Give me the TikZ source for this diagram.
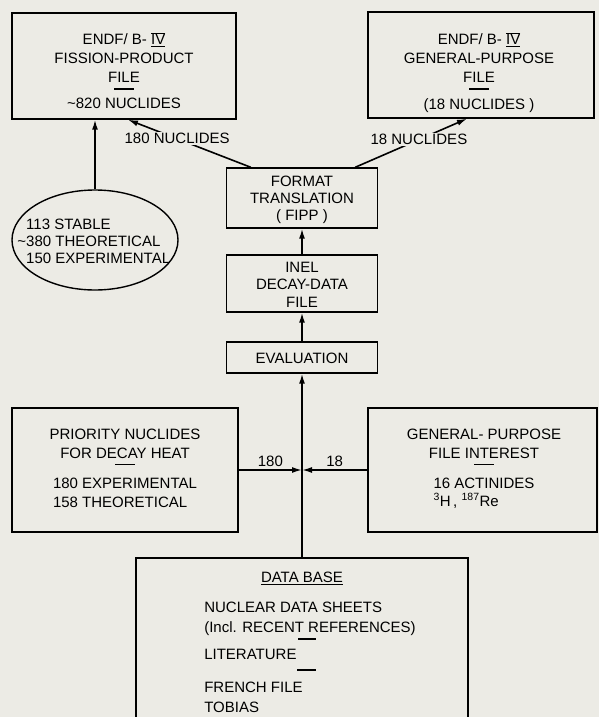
\documentclass[tikz,border=0pt]{standalone}
\usepackage{fontspec}
\setmainfont{Liberation Sans}
\usetikzlibrary{arrows.meta,shapes.geometric}
\definecolor{paper}{RGB}{236,235,229}
\newcommand{\romIV}{\smash{$\underline{\overline{\mbox{IV}}}$}}
\newcommand{\sepbar}[1][4pt]{\\[-12pt]\rule{20pt}{1.3pt}\\[#1]}

\begin{document}
\begin{tikzpicture}[x=1pt, y=-1pt,
  box/.style={draw, line width=1.4pt, inner sep=0pt},
  txt/.style={font=\fontsize{15}{19}\selectfont, align=center, inner sep=0pt, anchor=north},
  arr/.style={line width=1.6pt, -{Latex[length=10pt,width=6pt]}},
  lbl/.style={font=\fontsize{15}{19}\selectfont, fill=paper, inner sep=1pt},
  tag/.style={font=\fontsize{15}{19}\selectfont, above, inner sep=3pt}]
  \fill[paper] (0,0) rectangle (599,717);
  \clip (0,0) rectangle (599,717);
  % top row: the two ENDF/B-IV files
  \node[box, minimum width=224pt, minimum height=106pt] (fpfile) at (124,66) {};
  \node[box, minimum width=226pt, minimum height=106pt] (gpfile) at (481,65) {};
  \node[txt] (fptext) at (124,33.5) {ENDF/ B- \romIV\\FISSION-PRODUCT\\FILE\sepbar[0pt]\textasciitilde820 NUCLIDES};
  \node[txt] (gptext) at (479,33.5) {ENDF/ B- \romIV\\GENERAL-PURPOSE\\FILE\sepbar[1pt](18 NUCLIDES )};
  % middle column
  \node[box, minimum width=151pt, minimum height=60pt] (fipp) at (302,198) {};
  \node[box, minimum width=151pt, minimum height=57pt] (inel) at (302,283.5) {};
  \node[box, minimum width=151pt, minimum height=31pt] (evalbox) at (302,357.5) {};
  \node[txt, font=\fontsize{15}{17}\selectfont] (fipptext) at (302,175.5) {FORMAT\\TRANSLATION\\( FIPP )};
  \node[txt, font=\fontsize{15}{17.5}\selectfont] (ineltext) at (302,261.5) {INEL\\DECAY-DATA\\FILE};
  \node[txt] (evaltext) at (302,352.5) {EVALUATION};
  % nuclide counts
  \node[box, ellipse, minimum width=166pt, minimum height=100pt] (elli) at (95,240) {};
  \node[txt, align=left, anchor=north west, font=\fontsize{15}{17}\selectfont] (elltext) at (26,218.5)
    {113 STABLE\\\llap{\textasciitilde}380 THEORETICAL\\150 EXPERIMENTAL};
  % sources feeding the evaluation
  \node[box, minimum width=226pt, minimum height=124pt] (prio) at (125,470) {};
  \node[box, minimum width=229pt, minimum height=124pt] (gpint) at (482.5,470) {};
  \node[txt] (priotext) at (125,428.5) {PRIORITY NUCLIDES\\FOR DECAY HEAT\sepbar
    \begin{tabular}[t]{@{}l@{}}180 EXPERIMENTAL\\158 THEORETICAL\end{tabular}};
  \node[txt] (gpinttext) at (484,428.5) {GENERAL- PURPOSE\\FILE INTEREST\sepbar
    \begin{tabular}[t]{@{}l@{}}16 ACTINIDES\\[-1pt]\textsuperscript{3}H\,, \textsuperscript{187}Re\end{tabular}};
  \node[box, minimum width=332pt, minimum height=168pt] (database) at (302,642) {};
  \node[txt, font=\fontsize{15}{20}\selectfont] (dbtext) at (310,571.5) {\underline{DATA BASE}\rule{16pt}{0pt}\\[10pt]
    \begin{tabular}[t]{@{}l@{}}
      NUCLEAR DATA SHEETS\\
      (Incl. RECENT REFERENCES)\\[7pt]
      LITERATURE\\[13pt]
      FRENCH FILE\\
      TOBIAS
    \end{tabular}};
  \draw[line width=1.3pt] (298,639) -- (316,639);
  \draw[line width=1.3pt] (297,670) -- (316,670);
  % connectors
  \coordinate (merge) at (evalbox |- prio.east);
  \draw[arr] (elli) -- (elli |- fpfile.south);
  \draw[arr] ([xshift=25pt]fipp.north west) -- node[lbl, pos=0.6] {180 NUCLIDES} ([xshift=4pt]fpfile.south);
  \draw[arr] ([xshift=-23pt]fipp.north east) -- node[lbl, pos=0.57] {18 NUCLIDES} ([xshift=-14pt]gpfile.south);
  \draw[arr] (inel) -- (fipp);
  \draw[arr] (evalbox) -- (inel);
  \draw[arr] (database.north) -- (evalbox);
  \draw[arr] (prio) -- node[tag] {180} (merge);
  \draw[arr] (gpint) -- node[tag] {18} (merge);
\end{tikzpicture}
\end{document}
